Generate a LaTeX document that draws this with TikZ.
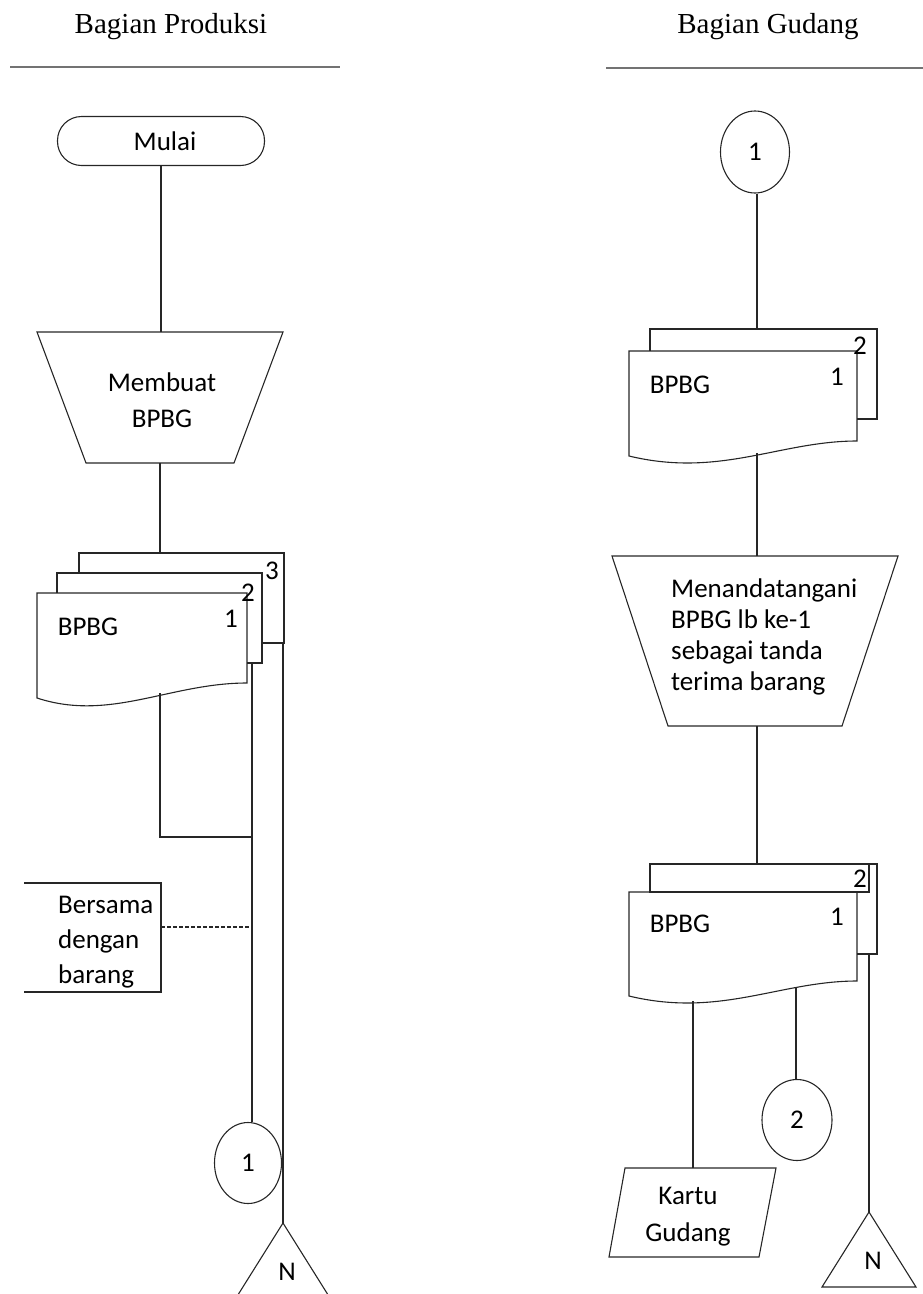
\documentclass[tikz,border=0pt]{standalone}
\usepackage{fontspec}
\setmainfont{Carlito}
\newfontfamily\headfont{Liberation Serif}
\usetikzlibrary{shapes.geometric}
\begin{document}
\begin{tikzpicture}[x=1pt,y=-1pt,
  ln/.style={draw=black!85, line width=1.1pt},
  hline/.style={draw=black!55, line width=2pt},
  head/.style={font=\headfont\fontsize{29}{34}\selectfont, inner sep=0pt},
  txt/.style={font=\fontsize{27}{31}\selectfont, inner sep=0pt},
  conn/.style={ln, ellipse, inner sep=0pt, font=\fontsize{27}{31}\selectfont}]
\useasboundingbox (0,0) rectangle (923,1294);
\clip (0,0) rectangle (923,1294);

% ---------- lane headers ----------
\node[head] (hprod) at (171,27) {Bagian Produksi};
\node[head] (hgud) at (768,27) {Bagian Gudang};
\draw[hline] (10,67) -- (340,67);
\draw[hline] (606,68) -- (923,68);

% ---------- Bagian Produksi ----------
\node[ln, rounded corners=24pt, minimum width=207pt, minimum height=49pt, txt] (mulai) at (161,141) {\hspace*{8pt}Mulai};

% manual operation: Membuat BPBG
\draw[ln] (37,332) -- (283,332) -- (234,463) -- (86,463) -- cycle;
\node[txt, align=center, font=\fontsize{27}{36}\selectfont] (membuat) at (162,400) {Membuat\\BPBG};
\coordinate (opAn) at (161,332);
\coordinate (opAs) at (160,463);

% document stack BPBG (3 copies)
\draw[ln] (79,573) -- (79,553) -- (284,553) -- (284,643) -- (262,643);
\draw[ln] (57,593) -- (57,573) -- (262,573) -- (262,663) -- (247,663);
\draw[ln] (37,593) -- (247,593) -- (247,683) .. controls (170,683) and (110,722) .. (37,698) -- cycle;
\node[txt] (docAlbl) at (88,627) {BPBG};
\node[txt] (docA1) at (231,619) {1};
\node[txt] (docA2) at (248,593) {2};
\node[txt] (docA3) at (272,571) {3};
\coordinate (docAtop) at (160,553);
\coordinate (docA1b) at (160,693);
\coordinate (docA2b) at (252,663);
\coordinate (docA3b) at (283,643);
\coordinate (elbow) at (160,837);
\coordinate (join) at (252,837);

% annotation
\draw[ln] (24,883) -- (161,883) -- (161,992) -- (24,992);
\node[txt, anchor=west, align=left, font=\fontsize{27}{35}\selectfont] (note) at (58,942) {Bersama\\dengan\\barang};
\coordinate (noteE) at (161,927);
\coordinate (noteT) at (250,927);

% off-page connector 1 and archive N
\node[conn, minimum width=67pt, minimum height=81pt] (offA) at (248,1163) {1};
\draw[ln] (283,1223) -- (236,1298) -- (330,1298) -- cycle;
\coordinate (fileA) at (283,1223);
\node[txt] (fileAN) at (287,1272) {N};

% connectors
\draw[ln] (mulai.south) -- (opAn);
\draw[ln] (opAs) -- (docAtop);
\draw[ln] (docA1b) -- (elbow) -- (join);
\draw[ln] (docA2b) -- (docA2b |- offA.north);
\draw[ln] (docA3b) -- (fileA);
\draw[ln, dash pattern=on 4pt off 2pt] (noteE) -- (noteT);

% ---------- Bagian Gudang ----------
\node[conn, minimum width=69pt, minimum height=82pt] (onB) at (755,152) {1};

% document stack BPBG (2 copies)
\draw[ln] (650,351) -- (650,329) -- (877,329) -- (877,419) -- (857,419);
\draw[ln] (629,351) -- (857,351) -- (857,441) .. controls (780,441) and (720,478) .. (629,456) -- cycle;
\node[txt] (docBlbl) at (680,385) {BPBG};
\node[txt] (docB1) at (837,377) {1};
\node[txt] (docB2) at (860,346) {2};
\coordinate (docBtop) at (757,329);
\coordinate (docBb) at (757,453);

% manual operation: signing
\draw[ln] (612,556) -- (898,556) -- (842,726) -- (668,726) -- cycle;
\node[txt, anchor=west, align=left, font=\fontsize{27}{31}\selectfont] (sign) at (671,637) {Menandatangani\\BPBG lb ke-1\\sebagai tanda\\terima barang};
\coordinate (opBn) at (757,556);
\coordinate (opBs) at (757,726);

% document stack BPBG (2 copies, signed)
\draw[ln] (650,892) -- (650,864) -- (877,864) -- (877,954) -- (857,954);
\draw[ln] (650,864) rectangle (869,892);
\draw[ln] (629,892) -- (857,892) -- (857,981) .. controls (780,981) and (720,1018) .. (629,996) -- cycle;
\node[txt] (docClbl) at (680,924) {BPBG};
\node[txt] (docC1) at (837,917) {1};
\node[txt] (docC2) at (860,879) {2};
\coordinate (docCtop) at (757,864);
\coordinate (docCb1) at (693,1001);
\coordinate (docCb2) at (796,988);
\coordinate (docCb3) at (869,954);

% Kartu Gudang, connector 2, archive N
\draw[ln] (625,1168) -- (776,1168) -- (759,1257) -- (609,1257) -- cycle;
\node[txt, align=center, font=\fontsize{27}{37}\selectfont] (kartu) at (688,1217) {Kartu\\Gudang};
\coordinate (kartuN) at (693,1168);
\node[conn, minimum width=70pt, minimum height=81pt] (offB) at (797,1120) {2};
\draw[ln] (869,1212) -- (916,1287) -- (822,1287) -- cycle;
\coordinate (fileB) at (869,1212);
\node[txt] (fileBN) at (873,1261) {N};

% connectors
\draw[ln] (docBtop |- onB.south) -- (docBtop);
\draw[ln] (docBb) -- (opBn);
\draw[ln] (opBs) -- (docCtop);
\draw[ln] (docCb1) -- (kartuN);
\draw[ln] (docCb2) -- (docCb2 |- offB.north);
\draw[ln] (docCb3) -- (fileB);
\end{tikzpicture}
\end{document}
